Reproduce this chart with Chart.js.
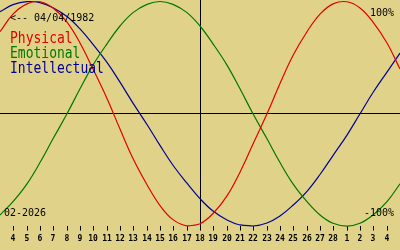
<!DOCTYPE html>
<html>
<head>
<meta charset="utf-8">
<script src="https://cdn.jsdelivr.net/npm/chart.js@4"></script>
<style>
  html, body { margin: 0; padding: 0; background: #e0d389; }
  #wrap { width: 400px; height: 250px; }
</style>
</head>
<body>
<div id="wrap"><canvas id="c" width="400" height="250"></canvas></div>
<script>
// Days of month shown on the x axis (Feb 3 .. Mar 5, 2026)
const days = [3,4,5,6,7,8,9,10,11,12,13,14,15,16,17,18,19,20,21,22,23,24,25,26,27,28,1,2,3,4,5];
// Biorhythm values (fraction of 100%) read per day
const physical = [0.7308,0.8879,0.9791,0.9977,0.9423,0.8170,0.6311,0.3984,0.1362,-0.1362,-0.3984,-0.6311,-0.8170,-0.9423,-0.9977,-0.9791,-0.8879,-0.7308,-0.5196,-0.2698,0,0.2698,0.5196,0.7308,0.8879,0.9791,0.9977,0.9423,0.8170,0.6311,0.3984];
const emotional = [-0.9010,-0.7818,-0.6235,-0.4339,-0.2225,0,0.2225,0.4339,0.6235,0.7818,0.9010,0.9749,1,0.9749,0.9010,0.7818,0.6235,0.4339,0.2225,0,-0.2225,-0.4339,-0.6235,-0.7818,-0.9010,-0.9749,-1,-0.9749,-0.9010,-0.7818,-0.6235];
const intellectual = [0.9096,0.9718,0.9989,0.9898,0.9450,0.8660,0.7557,0.6182,0.4582,0.2817,0.0951,-0.0951,-0.2817,-0.4582,-0.6182,-0.7557,-0.8660,-0.9450,-0.9898,-0.9989,-0.9718,-0.9096,-0.8146,-0.6901,-0.5406,-0.3717,-0.1893,0,0.1893,0.3717,0.5406];
const seriesNames = ['Physical', 'Emotional', 'Intellectual'];
const birthText = '<-- 04/04/1982';
const monthText = '02-2026';
const topText = '100%';
const bottomText = '-100%';
const todayIndex = 15; // Feb 18

const RED = '#e40000', GREEN = '#007800', BLUE = '#000096';

const textPlugin = {
  id: 'texts',
  afterDatasetsDraw(chart) {
    const ctx = chart.ctx;
    ctx.save();
    ctx.fillStyle = '#000';
    ctx.textBaseline = 'alphabetic';
    ctx.font = '10px "DejaVu Sans Mono"';
    ctx.textAlign = 'left';
    ctx.fillText(birthText, 10, 21);
    ctx.fillText(monthText, 4, 216);
    ctx.textAlign = 'right';
    ctx.fillText(topText, 394, 16);
    ctx.fillText(bottomText, 394, 216);
    ctx.textAlign = 'left';
    ctx.font = '13px "DejaVu Sans Mono"';
    const cols = [RED, GREEN, BLUE];
    const bases = [43, 58, 72.7];
    seriesNames.forEach((n, i) => {
      ctx.save();
      ctx.translate(10, bases[i]);
      ctx.scale(1, 1.15);
      ctx.fillStyle = cols[i];
      ctx.fillText(n, 0, 0);
      ctx.restore();
    });
    ctx.restore();
  }
};

const mk = (label, data, color) => ({
  label, data, borderColor: color, backgroundColor: color,
  borderWidth: 1.2, pointRadius: 0, tension: 0.4, clip: false, fill: false
});

new Chart(document.getElementById('c'), {
  type: 'line',
  data: {
    labels: days,
    datasets: [
      mk(seriesNames[0], physical, RED),
      mk(seriesNames[1], emotional, GREEN),
      mk(seriesNames[2], intellectual, BLUE)
    ]
  },
  options: {
    responsive: false,
    animation: false,
    devicePixelRatio: 1,
    layout: { padding: { left: 0, right: 0, top: 0, bottom: 3 } },
    plugins: { legend: { display: false }, tooltip: { enabled: false } },
    scales: {
      x: {
        type: 'category',
        offset: false,
        alignToPixels: true,
        border: { display: false },
        grid: {
          drawOnChartArea: true,
          drawTicks: true,
          tickLength: 5,
          lineWidth: 1,
          color: (ctx) => (ctx.tick && ctx.tick.value === todayIndex) ? '#000' : 'rgba(0,0,0,0)',
          tickColor: '#000'
        },
        ticks: {
          autoSkip: false,
          maxRotation: 0,
          minRotation: 0,
          padding: 3.4,
          color: '#000',
          font: { family: 'DejaVu Sans Mono', size: 8, weight: 'bold' },
          callback: (v, i) => (i === 0 || i === days.length - 1) ? null : String(days[i])
        }
      },
      y: {
        min: -0.9955,
        max: 1.0134,
        border: { display: false },
        grid: {
          drawTicks: false,
          lineWidth: 1,
          color: (ctx) => ctx.tick && ctx.tick.value === 0 ? '#000' : 'rgba(0,0,0,0)'
        },
        ticks: { display: false, stepSize: 1 }
      }
    }
  },
  plugins: [textPlugin]
});
</script>
</body>
</html>
